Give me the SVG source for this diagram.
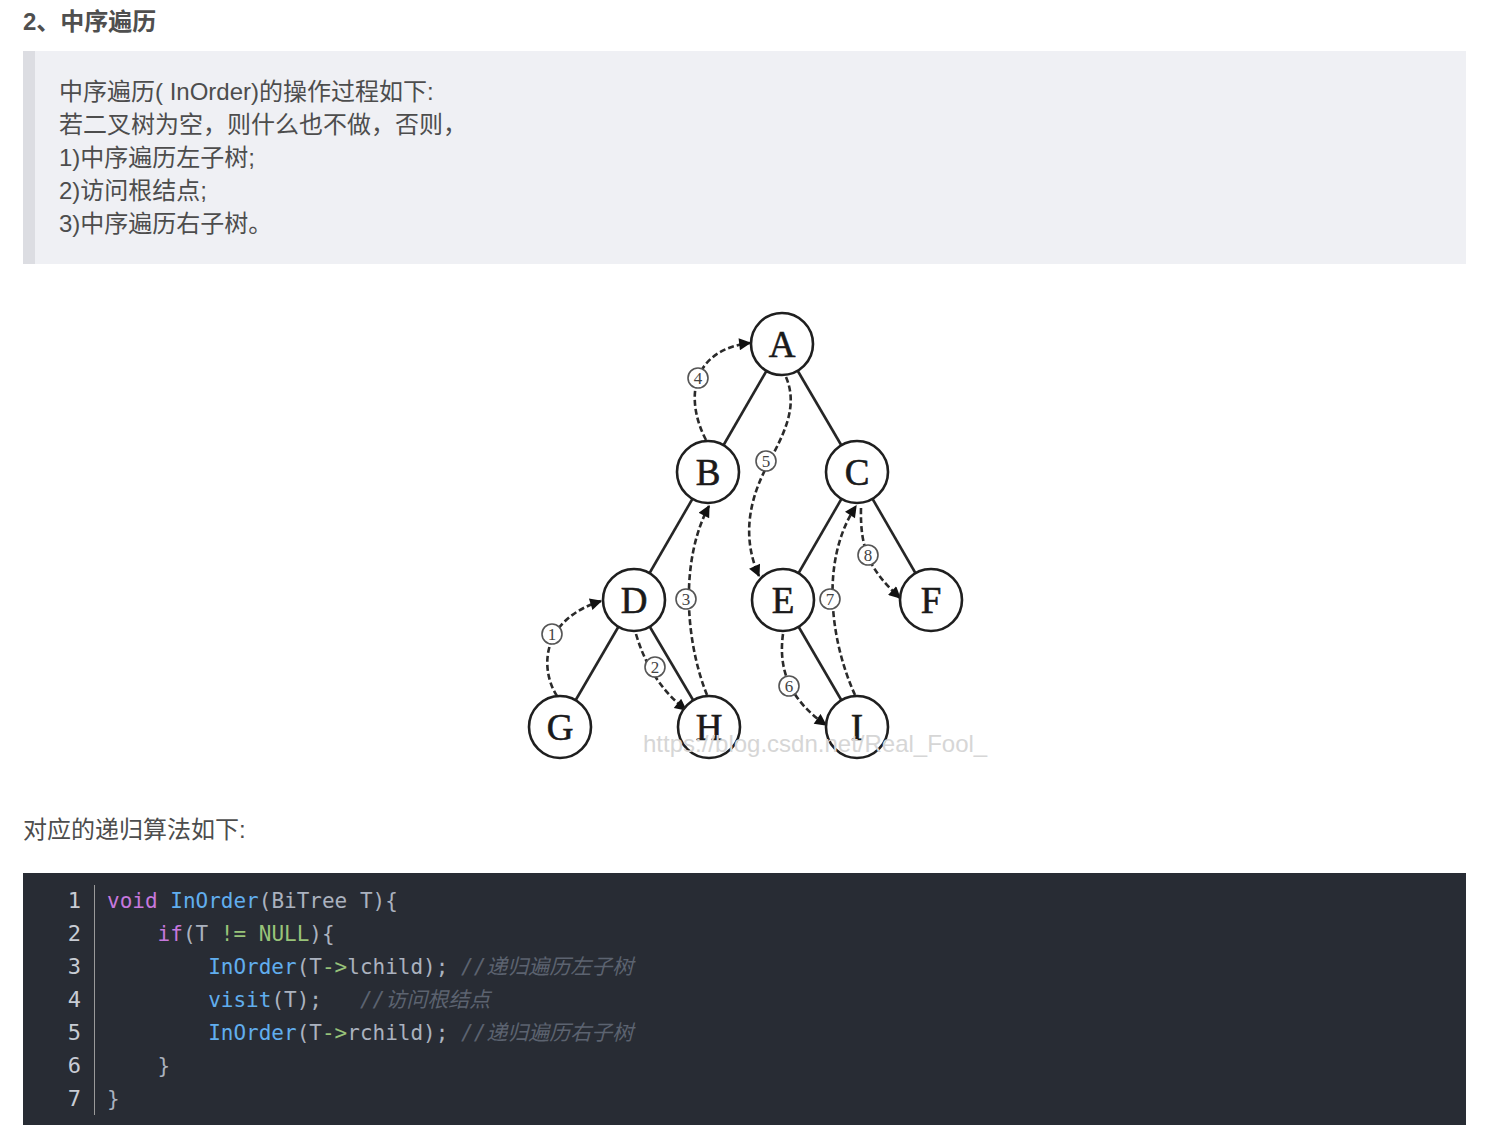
<svg xmlns="http://www.w3.org/2000/svg" width="1491" height="1144" viewBox="0 0 1491 1144">
<defs>
<style>
.h{font-family:"Liberation Sans","Noto Sans CJK SC",sans-serif;font-size:24px;font-weight:bold;fill:#4f4f4f}
.t{font-family:"Liberation Sans","Noto Sans CJK SC",sans-serif;font-size:24px;fill:#4d4d4d}
.node circle{fill:#fff;stroke:#1f1f1f;stroke-width:2.6}
.node text{font-family:"Liberation Serif","DejaVu Serif",serif;font-size:37px;fill:#1a1a1a;text-anchor:middle;stroke:#1a1a1a;stroke-width:0.6}
.edge{stroke:#262626;stroke-width:2.6;fill:none}
.dash{stroke:#2a2a2a;stroke-width:2.6;fill:none;stroke-dasharray:6 3}
.lbl circle{fill:#fff;stroke:#555;stroke-width:1.6}
.lbl text{font-family:"Liberation Serif",serif;font-size:17px;fill:#444;text-anchor:middle}
.wm{font-family:"Liberation Sans",sans-serif;font-size:24px;fill:#d6d6d6}
.code{font-family:"DejaVu Sans Mono","Noto Sans CJK SC",monospace;font-size:21px;fill:#abb2bf;white-space:pre}
.ln{font-family:"DejaVu Sans Mono",monospace;font-size:22px;fill:#c8ccd4;text-anchor:end}
.kw{fill:#c678dd}.fn{fill:#61aeee}.gr{fill:#98c379}.cm{fill:#5c6370;font-style:italic}
</style>
<marker id="ah" viewBox="0 0 10 10" refX="9" refY="5" markerWidth="14" markerHeight="12" markerUnits="userSpaceOnUse" orient="auto">
<path d="M0,0 L10,5 L0,10 z" fill="#111"/>
</marker>
</defs>
<rect width="1491" height="1144" fill="#fff"/>
<text class="h" x="23" y="30">2、中序遍历</text>
<rect x="23" y="51" width="1443" height="213" fill="#eff0f4"/>
<rect x="23" y="51" width="12" height="213" fill="#dcdde2"/>
<text class="t" x="59" y="100">中序遍历( InOrder)的操作过程如下:</text>
<text class="t" x="59" y="133">若二叉树为空，则什么也不做，否则，</text>
<text class="t" x="59" y="166">1)中序遍历左子树;</text>
<text class="t" x="59" y="199">2)访问根结点;</text>
<text class="t" x="59" y="232">3)中序遍历右子树。</text>

<g id="connectors">
<line class="edge" x1="782" y1="344" x2="708" y2="472"/>
<line class="edge" x1="782" y1="344" x2="857" y2="472"/>
<line class="edge" x1="708" y1="472" x2="634" y2="600"/>
<line class="edge" x1="857" y1="472" x2="783" y2="600"/>
<line class="edge" x1="857" y1="472" x2="931" y2="600"/>
<line class="edge" x1="634" y1="600" x2="560" y2="727"/>
<line class="edge" x1="634" y1="600" x2="709" y2="727"/>
<line class="edge" x1="783" y1="600" x2="857" y2="727"/>
<path class="dash" d="M557 696 C540 670 540 620 601 601" marker-end="url(#ah)"/>
<path class="dash" d="M636 634 Q650 682 686 710" marker-end="url(#ah)"/>
<path class="dash" d="M707 695 C685 640 680 560 709 506" marker-end="url(#ah)"/>
<path class="dash" d="M706 440 C685 400 690 350 750 343" marker-end="url(#ah)"/>
<path class="dash" d="M786 377 C800 410 780 440 765 470 C745 510 745 545 759 576" marker-end="url(#ah)"/>
<path class="dash" d="M783 634 C778 670 790 700 826 725" marker-end="url(#ah)"/>
<path class="dash" d="M855 695 C830 640 820 560 856 506" marker-end="url(#ah)"/>
<path class="dash" d="M861 508 C860 550 870 570 900 598" marker-end="url(#ah)"/>
<g class="lbl" id="l1"><circle cx="552" cy="634" r="10"/><text x="552" y="640">1</text></g>
<g class="lbl" id="l2"><circle cx="655" cy="667" r="10"/><text x="655" y="673">2</text></g>
<g class="lbl" id="l3"><circle cx="686" cy="599" r="10"/><text x="686" y="605">3</text></g>
<g class="lbl" id="l4"><circle cx="698" cy="378" r="10"/><text x="698" y="384">4</text></g>
<g class="lbl" id="l5"><circle cx="766" cy="461" r="10"/><text x="766" y="467">5</text></g>
<g class="lbl" id="l6"><circle cx="789" cy="686" r="10"/><text x="789" y="692">6</text></g>
<g class="lbl" id="l7"><circle cx="830" cy="599" r="10"/><text x="830" y="605">7</text></g>
<g class="lbl" id="l8"><circle cx="868" cy="555" r="10"/><text x="868" y="561">8</text></g>
</g>

<g id="nA" class="node"><circle cx="782" cy="344" r="31"/><text x="782" y="357">A</text></g>
<g id="nB" class="node"><circle cx="708" cy="472" r="31"/><text x="708" y="485">B</text></g>
<g id="nC" class="node"><circle cx="857" cy="472" r="31"/><text x="857" y="485">C</text></g>
<g id="nD" class="node"><circle cx="634" cy="600" r="31"/><text x="634" y="613">D</text></g>
<g id="nE" class="node"><circle cx="783" cy="600" r="31"/><text x="783" y="613">E</text></g>
<g id="nF" class="node"><circle cx="931" cy="600" r="31"/><text x="931" y="613">F</text></g>
<g id="nG" class="node"><circle cx="560" cy="727" r="31"/><text x="560" y="740">G</text></g>
<g id="nH" class="node"><circle cx="709" cy="727" r="31"/><text x="709" y="740">H</text></g>
<g id="nI" class="node"><circle cx="857" cy="727" r="31"/><text x="857" y="740">I</text></g>
<text class="wm" x="643" y="752">https://blog.csdn.net/Real_Fool_</text>

<text class="t" x="23" y="838">对应的递归算法如下:</text>

<rect x="23" y="873" width="1443" height="252" fill="#282c34"/>
<line x1="94.5" y1="885" x2="94.5" y2="1115" stroke="#9a9a9a" stroke-width="1"/>
<text class="ln" x="81" y="908">1</text>
<text class="ln" x="81" y="941">2</text>
<text class="ln" x="81" y="974">3</text>
<text class="ln" x="81" y="1007">4</text>
<text class="ln" x="81" y="1040">5</text>
<text class="ln" x="81" y="1073">6</text>
<text class="ln" x="81" y="1106">7</text>
<text class="code" x="107" y="908"><tspan class="kw">void</tspan> <tspan class="fn">InOrder</tspan>(BiTree T){</text>
<text class="code" x="107" y="941">    <tspan class="kw">if</tspan>(T <tspan class="gr">!=</tspan> <tspan class="gr">NULL</tspan>){</text>
<text class="code" x="107" y="974">        <tspan class="fn">InOrder</tspan>(T<tspan class="gr">-&gt;</tspan>lchild); <tspan class="cm">//递归遍历左子树</tspan></text>
<text class="code" x="107" y="1007">        <tspan class="fn">visit</tspan>(T);   <tspan class="cm">//访问根结点</tspan></text>
<text class="code" x="107" y="1040">        <tspan class="fn">InOrder</tspan>(T<tspan class="gr">-&gt;</tspan>rchild); <tspan class="cm">//递归遍历右子树</tspan></text>
<text class="code" x="107" y="1073">    }</text>
<text class="code" x="107" y="1106">}</text>
</svg>
